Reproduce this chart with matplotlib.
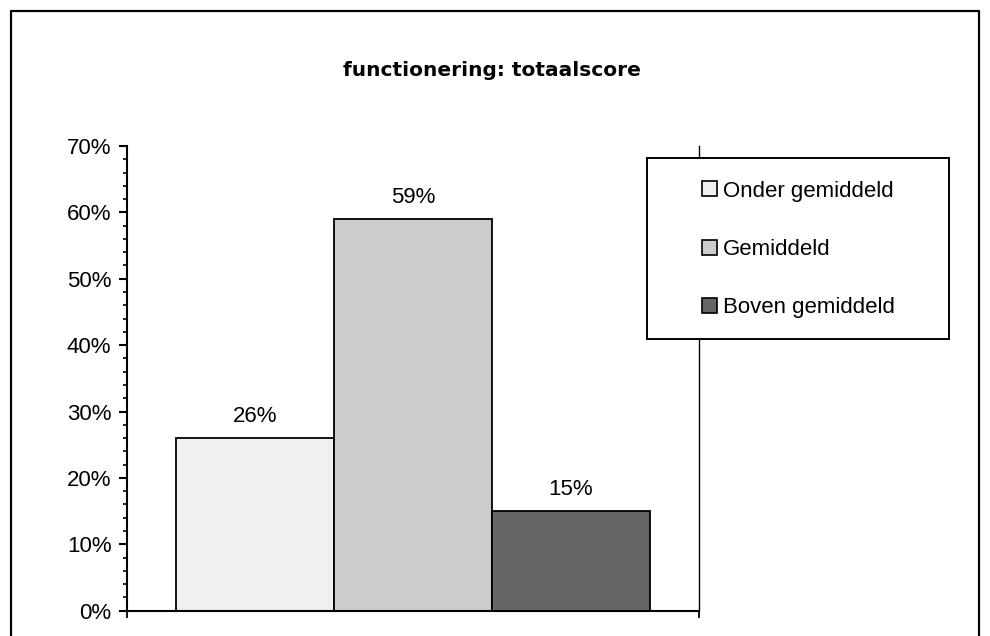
import matplotlib.pyplot as plt
from matplotlib.patches import Patch
from matplotlib.lines import Line2D
from matplotlib.ticker import MultipleLocator, FuncFormatter

plt.rcParams['font.family'] = ['Liberation Sans', 'DejaVu Sans']

title = 'functionering: totaalscore'
categories = ['Onder gemiddeld', 'Gemiddeld', 'Boven gemiddeld']
percentages = [26, 59, 15]
bar_colors = ['#f0f0f0', '#cccccc', '#666666']

W, H = 990, 636


def fx(px):
    return px / W


def fy(py):
    return 1 - py / H


def main():
    fig = plt.figure(figsize=(W / 100, H / 100), dpi=100)
    fig.patch.set_facecolor('white')

    # frame around the whole chart area
    fig.add_artist(Line2D([fx(11), fx(11), fx(979), fx(979)],
                          [fy(640), fy(11), fy(11), fy(640)],
                          color='black', lw=1.6))

    ax = fig.add_axes([fx(126.7), fy(610.7), fx(699 - 126.7), fy(146) - fy(610.7)])
    ax.set_xlim(0, 1)
    ax.set_ylim(0, 70)

    width = 0.276
    for i, (name, val, col) in enumerate(zip(categories, percentages, bar_colors)):
        x = 0.5 + (i - 1) * width
        ax.bar(x, val, width=width, color=col, edgecolor='black', linewidth=1.3,
               label=name, zorder=2)
        ax.annotate('%d%%' % val, (x, val), xytext=(0, 11.5), textcoords='offset points',
                    ha='center', va='baseline', fontsize=16)

    ax.spines['top'].set_visible(False)
    ax.spines['left'].set_linewidth(1.5)
    ax.spines['bottom'].set_linewidth(1.5)
    ax.spines['right'].set_linewidth(1.0)

    ax.yaxis.set_major_locator(MultipleLocator(10))
    ax.yaxis.set_minor_locator(MultipleLocator(2))
    ax.yaxis.set_major_formatter(FuncFormatter(lambda v, p: '%d%%' % v))
    ax.tick_params(axis='y', which='major', direction='out', length=6, width=1.5,
                   labelsize=16, pad=5)
    ax.tick_params(axis='y', which='minor', direction='out', length=3.2, width=1.2)

    ax.set_xticks([0, 1])
    ax.set_xticklabels([])
    ax.tick_params(axis='x', direction='out', length=4.7, width=1.3)

    fig.text(fx(492), fy(70), title, ha='center', va='center', fontsize=14.5,
             fontweight='bold', family='DejaVu Sans')

    # legend box
    fig.add_artist(plt.Rectangle((fx(646.7), fy(339)), fx(949.3 - 646.7), fy(158.3) - fy(339),
                                 transform=fig.transFigure, facecolor='white',
                                 edgecolor='black', lw=1.4, zorder=5))
    handles = [Patch(facecolor=c, edgecolor='black', lw=1.2) for c in bar_colors]
    leg = fig.legend(handles, categories, loc='upper left',
                     bbox_to_anchor=(fx(702), fy(180.5)), frameon=False, fontsize=16,
                     handlelength=0.66, handleheight=0.66, handletextpad=0.3,
                     labelspacing=1.68, borderpad=0, borderaxespad=0)
    leg.set_zorder(6)

    fig.savefig('out.png', dpi=100)


if __name__ == '__main__':
    main()
